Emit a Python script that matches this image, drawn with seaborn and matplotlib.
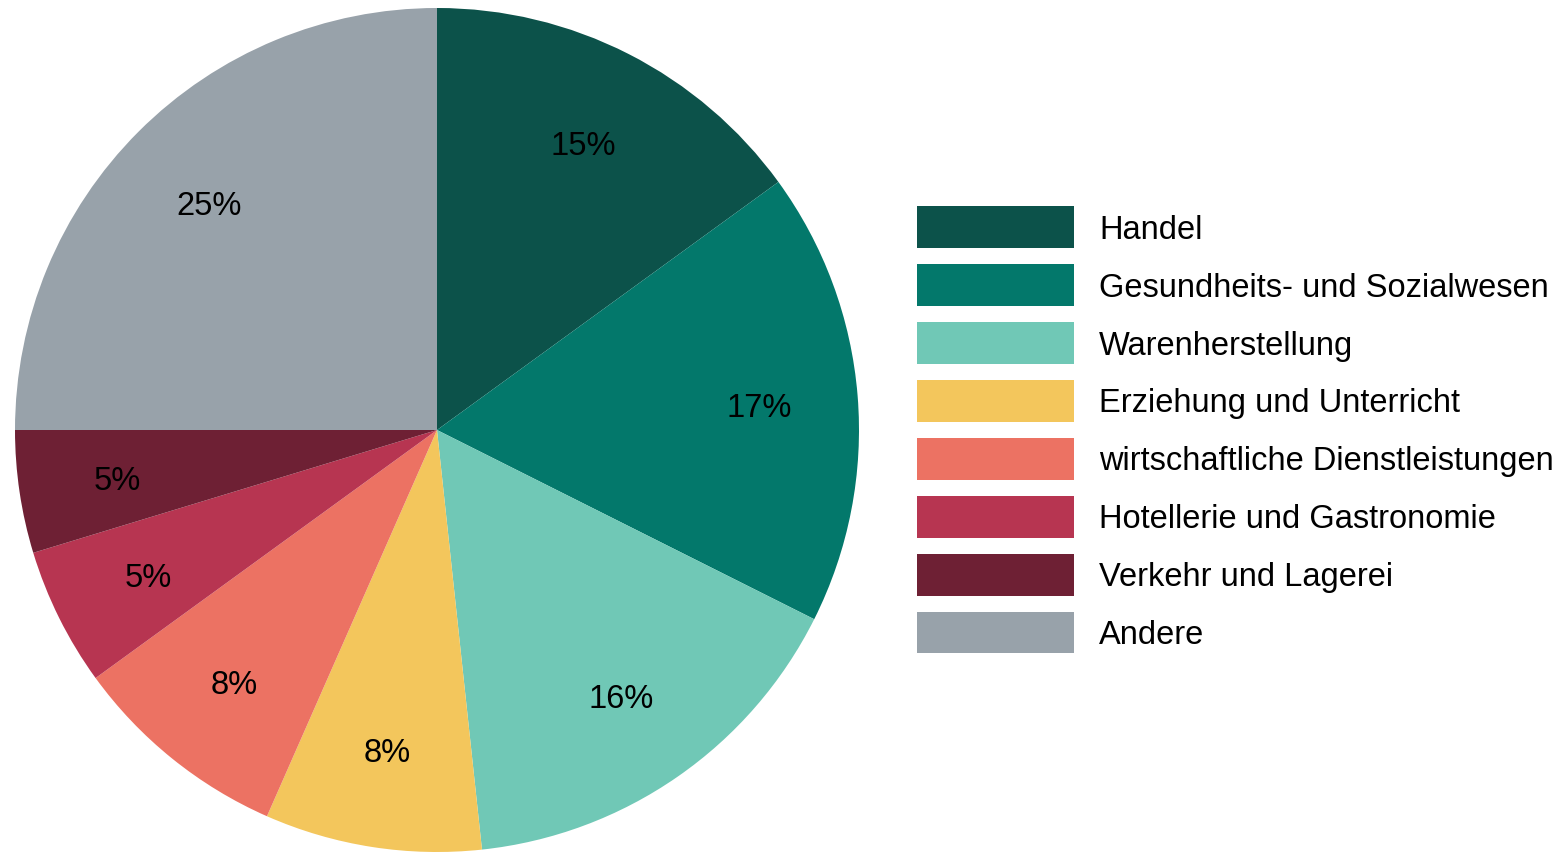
import matplotlib
matplotlib.use("Agg")
import matplotlib.pyplot as plt
import seaborn as sns

categories = [
    "Handel",
    "Gesundheits- und Sozialwesen",
    "Warenherstellung",
    "Erziehung und Unterricht",
    "wirtschaftliche Dienstleistungen",
    "Hotellerie und Gastronomie",
    "Verkehr und Lagerei",
    "Andere",
]
shares = [15.0, 17.4, 15.9, 8.3, 8.4, 5.3, 4.7, 25.0]
colors = ["#0C524A", "#03786B", "#70C8B6", "#F3C65C",
          "#EC7263", "#B73551", "#6E2034", "#98A2AA"]

sns.set_theme(style="white")
plt.rcParams["font.family"] = ["Liberation Sans", "DejaVu Sans"]
plt.rcParams["text.color"] = "black"

fs = 23.5

fig = plt.figure(figsize=(15.67, 8.53), dpi=100)
ax = fig.add_axes([15 / 1567, 0.0, 844 / 1567, 844 / 853])

wedges, texts, autotexts = ax.pie(
    shares,
    colors=colors,
    startangle=90,
    counterclock=False,
    autopct="%.0f%%",
    pctdistance=0.765,
    wedgeprops=dict(linewidth=0),
    textprops=dict(fontsize=fs, color="black"),
)
for t in autotexts:
    t.set_va("center_baseline")
ax.set_xlim(-1, 1)
ax.set_ylim(-1, 1)
ax.set_aspect("equal")
ax.axis("off")

leg = fig.legend(
    wedges, categories,
    loc="upper left",
    bbox_to_anchor=(917 / 1567, 1 - 207 / 853),
    frameon=False,
    fontsize=fs,
    handlelength=4.81,
    handleheight=1.6,
    handletextpad=0.77,
    labelspacing=0.49,
    borderpad=0,
    borderaxespad=0,
)
for t in leg.get_texts():
    t.set_color("black")

fig.savefig("out.png", dpi=100)
